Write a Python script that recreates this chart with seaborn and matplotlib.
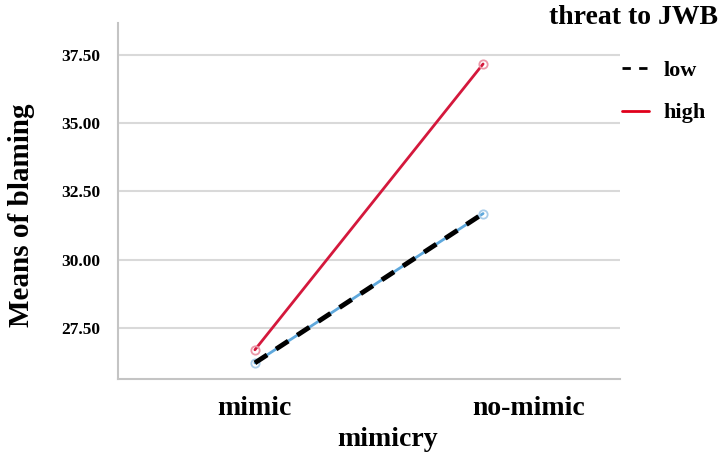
import pandas as pd
import matplotlib
matplotlib.use('Agg')
import matplotlib.pyplot as plt
import matplotlib.transforms as mtransforms
from matplotlib.lines import Line2D
import seaborn as sns

# data
mimicry = ['mimic', 'no-mimic']
low = [26.22, 31.69]
high = [26.70, 37.17]
y_ticks = [27.5, 30.0, 32.5, 35.0, 37.5]

red = '#d4183c'
blue = '#5fa8dc'

sns.set_style('white')
plt.rcParams['font.family'] = ['Liberation Serif', 'DejaVu Serif']
plt.rcParams['font.weight'] = 'bold'
plt.rcParams['text.color'] = 'black'
plt.rcParams['axes.labelcolor'] = 'black'
plt.rcParams['xtick.color'] = 'black'
plt.rcParams['ytick.color'] = 'black'

df = pd.DataFrame({
    'mimicry': mimicry * 2,
    'blaming': low + high,
    'threat': ['low'] * 2 + ['high'] * 2,
})

fig = plt.figure(figsize=(7.2, 4.54), dpi=100)
ax = fig.add_axes([118/720, 1 - 379/454, 502/720, 356/454])

sns.lineplot(data=df, x='mimicry', y='blaming', hue='threat',
             palette={'low': blue, 'high': red}, lw=2,
             legend=False, ax=ax)
# small open circles at the cell means
for ln, mc in zip(ax.lines[:2], ['#a9cdea', '#ec97a8']):
    ln.set_marker('o')
    ln.set_markersize(6)
    ln.set_markerfacecolor('none')
    ln.set_markeredgecolor(mc)
    ln.set_markeredgewidth(1.3)

# black dashes drawn over the blue low line
sns.lineplot(x=mimicry, y=low, color='black', lw=3.5,
             linestyle=(0, (3, 2.2)), ax=ax)

ax.set_xlim(-0.6, 1.6)
ax.set_ylim(25.63, 38.67)
ax.set_yticks(y_ticks)
ax.set_yticklabels([f'{v:.2f}' for v in y_ticks])
ax.grid(axis='y', color='#d9d9d9', lw=1.5)
ax.set_axisbelow(True)
for s in ['top', 'right']:
    ax.spines[s].set_visible(False)
for s in ['left', 'bottom']:
    ax.spines[s].set_color('#c4c4c4')
    ax.spines[s].set_linewidth(1.5)

ax.tick_params(axis='y', length=0, pad=13, labelsize=12.5)
ax.tick_params(axis='x', length=0, pad=12, labelsize=20)
for t in ax.get_yticklabels() + ax.get_xticklabels():
    t.set_fontweight('bold')
# SPSS output had the second category label pushed to the right
lab = ax.get_xticklabels()[1]
lab.set_transform(lab.get_transform() + mtransforms.ScaledTranslation(0.46, 0, fig.dpi_scale_trans))

ax.set_xlabel('mimicry', fontsize=20, fontweight='bold')
ax.set_ylabel('Means of blaming', fontsize=21, fontweight='bold')
ax.xaxis.set_label_coords(0.536, -0.135)
ax.yaxis.set_label_coords(-0.165, 0.46)

fig.text(718/720, 1 - 18/454, 'threat to JWB', ha='right', va='center',
         fontsize=20, fontweight='bold')
handles = [Line2D([], [], color='black', lw=2, linestyle=(0, (3, 3))),
           Line2D([], [], color='#e0001b', lw=2)]
ax.legend(handles, ['low', 'high'], loc='upper left',
          bbox_to_anchor=(622/720, 1 - 60/454), bbox_transform=fig.transFigure,
          frameon=False, borderpad=0, borderaxespad=0, handlelength=1.2,
          handletextpad=0.65, labelspacing=1.0,
          prop={'size': 16, 'weight': 'bold'})

fig.savefig('out.png', dpi=100)
